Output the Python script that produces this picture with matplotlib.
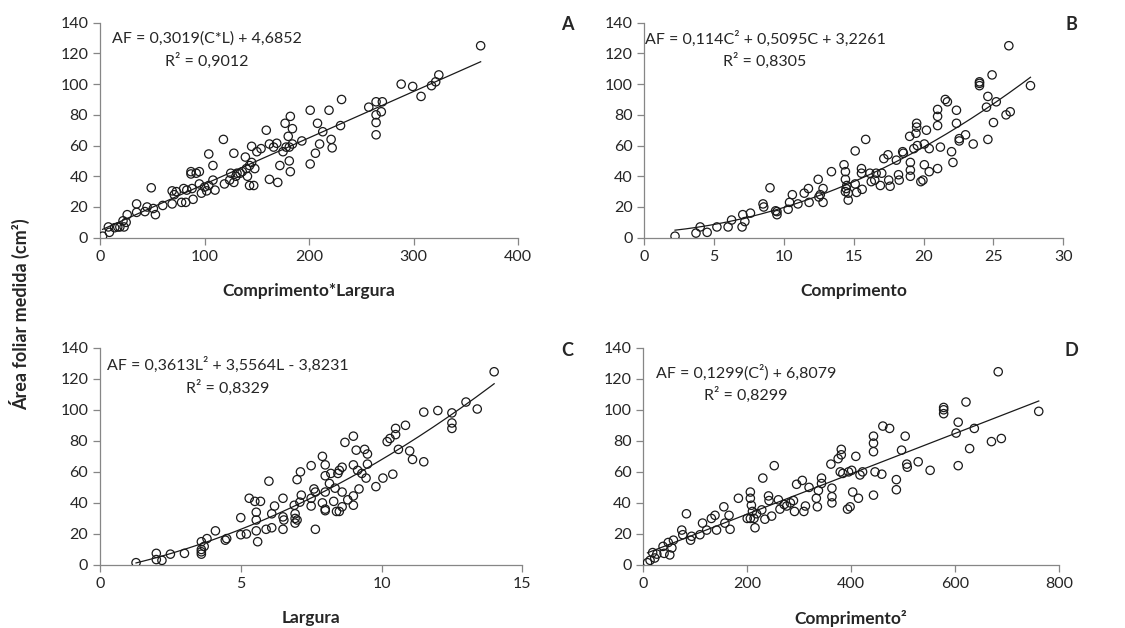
import numpy as np
import matplotlib
matplotlib.use("Agg")
import matplotlib.pyplot as plt

plt.rcParams['font.family'] = ['Lato', 'DejaVu Sans']

# --- data ---
# A: Comprimento*Largura vs area
a_x = [2.5, 8, 9, 14, 17, 19, 22, 23, 25, 26, 35, 35, 43, 45, 49, 51, 53, 60, 69, 69,
       71, 73, 78, 80, 82, 83, 87, 87, 89, 88, 92, 95, 97, 95, 100, 102, 104, 104, 108, 108,
       110, 118, 119, 125, 124, 128, 128, 130, 131, 134, 136, 140, 139, 141, 143, 145, 145, 143, 147, 148,
       150, 154, 159, 162, 162, 166, 169, 170, 172, 175, 177, 178, 180, 181, 181, 182, 182, 184, 184, 193,
       201, 201, 206, 208, 210, 213, 219, 221, 222, 230, 231, 257, 264, 264, 264, 264, 270, 269, 288, 299,
       307, 317, 321, 324, 364]
a_y = [1, 7, 3.5, 6.5, 7, 7, 11, 7, 10, 15, 22, 16.5, 17, 20, 32.5, 19, 15, 21, 22, 30.5,
       28, 30, 23, 32, 23, 31, 43, 41.5, 25, 32, 42, 43, 29, 35, 33, 30.5, 34, 54.5, 47, 37.5,
       31, 64, 35, 42, 37.5, 55, 36, 40, 42, 42, 43, 45, 52.5, 40, 47, 59.5, 49, 34, 34, 45,
       56, 58, 70, 61, 38, 59, 61.5, 36, 47, 56, 74.5, 59, 66, 50, 59, 43, 79, 61, 71, 63,
       83, 48, 55, 74.5, 61, 69, 83, 64, 58.5, 73, 90, 85, 88.5, 80, 75, 67, 88.5, 82, 100, 98.5,
       92, 99, 101.5, 106, 125]

# B: Comprimento vs area
b_x = [2.2, 3.7, 4.0, 4.5, 5.2, 6.0, 6.25, 7.0, 7.05, 7.2, 7.6, 8.5, 8.55, 9.0, 9.4, 9.5, 9.5, 10.3, 10.4, 10.6,
       11.0, 11.45, 11.75, 11.8, 12.45, 12.5, 12.6, 12.8, 12.8, 13.4, 14.3, 14.4, 14.4, 14.4, 14.45, 14.5, 14.6, 14.6, 15.1, 15.1,
       15.2, 15.55, 15.55, 15.6, 15.85, 16.15, 16.25, 16.5, 16.6, 16.9, 17.0, 17.15, 17.45, 17.5, 17.6, 18.05, 18.2, 18.25, 18.5, 18.55,
       19.0, 19.05, 19.05, 19.05, 19.3, 19.45, 19.5, 19.5, 19.55, 19.8, 19.95, 20.05, 20.05, 20.2, 20.4, 20.4, 21.0, 21.0, 21.0, 21.0,
       21.2, 21.55, 21.7, 22.0, 22.1, 22.35, 22.35, 22.55, 22.55, 23.0, 23.55, 24.0, 24.0, 24.0, 24.5, 24.6, 24.6, 24.9, 25.0, 25.2,
       25.9, 26.2, 26.1, 27.65]
b_y = [1, 3, 7, 3.5, 7, 7, 11.5, 7, 15, 10.5, 16, 22, 20, 32.5, 17.5, 15, 17, 18.5, 23, 28,
       22, 29, 32, 23, 38, 26.5, 28, 32, 23, 43, 47.5, 43, 38, 30, 32, 34, 29, 24.5, 56.5, 35,
       29.5, 45, 42, 31.5, 64, 42, 36.5, 37.5, 42, 34, 42, 51.5, 54, 37.5, 33.5, 50.5, 41, 37.5, 56, 55,
       66, 49, 44, 40, 58, 68, 74.5, 72, 60, 36.5, 37.5, 61, 47.5, 70, 58, 43, 83.5, 79, 73, 45,
       59, 90, 88.5, 56, 49, 83, 74.5, 64.5, 63, 67, 61, 101.5, 100.5, 99, 85, 92, 64, 106, 75, 88.5,
       80, 82, 125, 99]

# C: Largura vs area
c_x = [1.28, 2.0, 2.0, 2.2, 2.5, 3.0, 3.6, 3.6, 3.6, 3.6, 3.7, 3.8, 4.1, 4.45, 4.5, 5.0, 5.0, 5.2, 5.3, 5.5,
       5.55, 5.55, 5.55, 5.6, 5.7, 5.9, 6.0, 6.1, 6.1, 6.2, 6.5, 6.5, 6.5, 6.53, 6.9, 6.93, 6.93, 6.93, 7.0, 7.0,
       7.1, 7.12, 7.15, 7.5, 7.5, 7.5, 7.6, 7.65, 7.65, 7.9, 7.9, 8.0, 8.0, 8.0, 8.0, 8.0, 8.15, 8.2, 8.3, 8.35,
       8.4, 8.45, 8.5, 8.5, 8.6, 8.6, 8.6, 8.7, 8.8, 9.0, 9.0, 9.0, 9.0, 9.1, 9.15, 9.2, 9.3, 9.4, 9.45, 9.5,
       9.5, 9.8, 10.05, 10.2, 10.3, 10.4, 10.5, 10.5, 10.6, 10.85, 11.0, 11.1, 11.5, 11.5, 12.0, 12.5, 12.5, 12.5, 13.0, 13.4,
       14.0]
c_y = [1.5, 7.5, 3.5, 3, 7, 7.5, 15, 10, 8.5, 7, 12, 17, 22, 16, 17, 30.5, 19.5, 20, 43, 41,
       34, 29, 22, 15, 41, 23, 54, 33, 24, 38, 43, 31, 23, 29, 38.5, 33, 30, 27, 55, 29,
       40.5, 60, 45, 64, 38, 43, 49, 47, 23, 70, 40, 64.5, 57.5, 47, 36, 35, 52.5, 59, 41, 49.5,
       34.5, 59, 61, 34.5, 63, 47, 37.5, 79, 42, 83, 64.5, 44.5, 38.5, 74, 61, 49, 59, 74.5, 56, 71.5,
       65, 50.5, 56, 79.5, 81.5, 58.5, 84, 88, 74.5, 90, 73.5, 68, 98.5, 66.5, 99.5, 98, 91.5, 88, 105, 100.5,
       124.5]

# D: Comprimento^2 vs area
d_x = [8, 13, 18, 22, 26, 38, 40, 48, 51, 55, 58, 74, 76, 83, 91, 93, 109, 114, 122, 131,
       138, 141, 155, 157, 165, 167, 183, 200, 206, 206, 206, 208, 210, 213, 215, 218, 228, 230, 234, 241,
       242, 247, 252, 260, 263, 271, 276, 283, 289, 291, 295, 306, 309, 312, 319, 333, 335, 337, 343, 343,
       361, 363, 363, 363, 375, 379, 381, 381, 384, 395, 393, 398, 401, 403, 409, 414, 417, 422, 443, 443,
       443, 443, 446, 459, 461, 474, 487, 487, 497, 504, 507, 508, 529, 552, 578, 578, 578, 602, 606, 606,
       621, 628, 637, 670, 689, 683, 761]
d_y = [1.5, 3, 8, 4.5, 7, 12, 7.5, 14.5, 6.5, 11, 16, 22.5, 19.5, 33, 16, 18.5, 19.5, 27, 22.5, 30,
       32, 22.5, 37.5, 27, 32, 23, 43, 30, 47, 43, 30, 38.5, 34.5, 30, 24, 33, 35.5, 56, 29.5, 44.5,
       41.5, 31.5, 64, 42, 36, 39, 38, 40, 41.5, 34.5, 52, 54.5, 34.5, 38, 50, 43, 37.5, 48, 56, 52.5,
       65, 49.5, 44, 40, 68.5, 60, 74.5, 71, 59, 60, 36, 37.5, 61, 47, 70, 43, 58, 60, 83, 78.5,
       73, 45, 60, 58.5, 89.5, 88, 55, 48.5, 74, 83, 65, 63, 66.5, 61, 101.5, 100, 97.5, 85, 92, 64,
       105, 75, 88, 79.5, 81.5, 124.5, 99]

# fitted equations shown on the chart
eq_a = [0.3019, 4.6852]
eq_b = [0.114, 0.5095, 3.2261]
eq_c = [0.3613, 3.5564, -3.8231]
eq_d = [0.1299, 6.8079]

panels = [
    # x, y, coefs, xmax, xticks, xlabel, eq text, r2 text, text x, letter, text y
    (a_x, a_y, eq_a, 400, [0, 100, 200, 300, 400], 'Comprimento*Largura',
     'AF = 0,3019(C*L) + 4,6852', 'R² = 0,9012', 102, 'A', (129.5, 115.3)),
    (b_x, b_y, eq_b, 30, [0, 5, 10, 15, 20, 25, 30], 'Comprimento',
     'AF = 0,114C² + 0,5095C + 3,2261', 'R² = 0,8305', 8.64, 'B', (129.5, 115.3)),
    (c_x, c_y, eq_c, 15, [0, 5, 10, 15], 'Largura',
     'AF = 0,3613L² + 3,5564L - 3,8231', 'R² = 0,8329', 4.55, 'C', (128.8, 114.0)),
    (d_x, d_y, eq_d, 800, [0, 200, 400, 600, 800], 'Comprimento²',
     'AF = 0,1299(C²) + 6,8079', 'R² = 0,8299', 197.6, 'D', (123.9, 109.5)),
]

W, H = 1125, 628
boxes = [(100, 518.3, 22.7, 237.7), (644.3, 1063.3, 22.7, 237.7),
         (100, 522.3, 347.7, 565), (643.3, 1059, 347.7, 565)]
letter_pos = [(567, 24), (1071, 24), (567, 350), (1071, 350)]

fig = plt.figure(figsize=(W / 100, H / 100), dpi=100)
grey = '#868686'
txt = '#262626'

for (x, y, coefs, xmax, xticks, xlab, eq, r2, tx, letter, ty), box, lp in zip(panels, boxes, letter_pos):
    l, r, t, b = box
    ax = fig.add_axes([l / W, 1 - b / H, (r - l) / W, (b - t) / H])
    x = np.array(x)
    y = np.array(y)
    ax.scatter(x, y, s=36, facecolors='none', edgecolors='#1a1a1a', linewidths=0.9, zorder=3)
    xs = np.linspace(x.min(), x.max(), 200)
    ax.plot(xs, np.polyval(coefs, xs), color='#1a1a1a', lw=0.9, zorder=2)
    ax.set_xlim(0, xmax)
    ax.set_ylim(0, 140)
    ax.set_xticks(xticks)
    ax.set_yticks(range(0, 141, 20))
    for s in ['top', 'right']:
        ax.spines[s].set_visible(False)
    for s in ['left', 'bottom']:
        ax.spines[s].set_color(grey)
        ax.spines[s].set_linewidth(0.9)
    ax.tick_params(colors=grey, labelcolor=txt, labelsize=11.5, length=5, width=0.9)
    ax.set_xlabel(xlab, fontsize=12.5, fontweight='bold', color=txt, labelpad=14)
    ax.text(tx, ty[0], eq, ha='center', va='center', fontsize=11.5, color=txt)
    ax.text(tx, ty[1], r2, ha='center', va='center', fontsize=11.5, color=txt)
    fig.text(lp[0] / W, 1 - lp[1] / H, letter, ha='center', va='center',
             fontsize=13, fontweight='bold', color=txt)

fig.text(20 / W, 1 - 314 / H, 'Área foliar medida (cm²)', rotation=90, ha='center', va='center',
         fontsize=13, fontweight='bold', color=txt)

fig.savefig('out.png', dpi=100, facecolor='white')
